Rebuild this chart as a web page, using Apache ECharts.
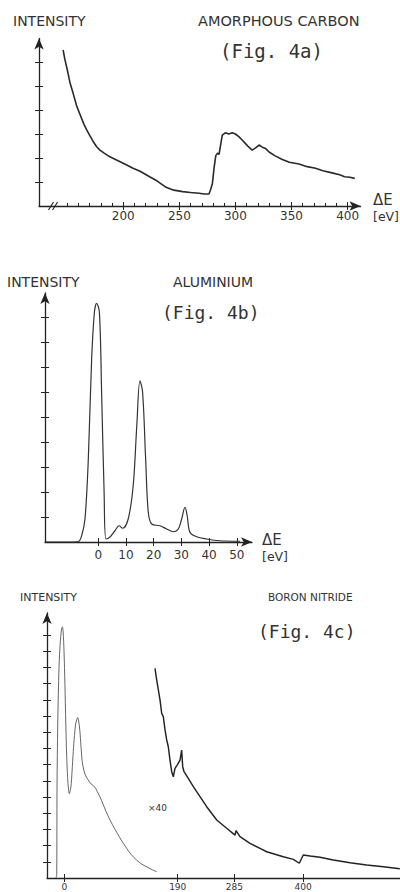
<!DOCTYPE html>
<html><head><meta charset="utf-8">
<script src="https://cdn.jsdelivr.net/npm/echarts@6/dist/echarts.min.js"></script>
<style>html,body{margin:0;padding:0;background:#fff}#c{width:400px;height:892px}</style>
</head><body><div id="c"></div>
<script>
// ---------- Fig. 4a : amorphous carbon ----------
const aEnergy = [146.4,148,150,152.7,155,158.6,162,165,167.4,170,173,176.3,179.2,183,188,194,200,208.7,215,223.5,230,238.2,245,253,260,267.7,272,276.4,278,279.5,281,282.5,284,285.4,287,288.3,291,294,297.2,300,303,306,309,312,314.9,318,321,324,326.8,330,335,341.8,348,356.6,364,371.4,378,386.1,393,397.3,402,406.4];
const aIntensity = [6.5,6.1,5.7,5.1,4.75,4.15,3.75,3.4,3.17,2.95,2.7,2.47,2.33,2.2,2.05,1.92,1.78,1.57,1.45,1.22,1.05,0.78,0.66,0.6,0.56,0.53,0.5,0.5,0.7,0.95,1.6,2.1,2.2,2.15,2.6,2.95,3.05,3.0,3.05,3.0,2.89,2.75,2.6,2.45,2.33,2.42,2.54,2.45,2.4,2.25,2.1,1.94,1.82,1.75,1.64,1.57,1.47,1.38,1.3,1.22,1.2,1.15];
const aMajorTicks = [200,250,300,350,400];
const aMinorTicks = [150,160,170,180,190,210,220,230,240,260,270,280,290,310,320,330,340,360,370,380,390];
const aYTicks = [1,2,3,4,5,6];
const aBreaks = [135.6,139.2];

// ---------- Fig. 4b : aluminium ----------
const bEnergy = [-19,-10,-7.2,-6,-4.8,-3.6,-2.4,-1.4,-0.6,0.4,1.2,2.1,2.8,4.2,6,7.5,8.8,10.8,12.6,13.9,15.05,16,17.1,18.05,19.3,22.3,24.7,27.1,28.9,30.1,31.3,32.1,33.1,35.5,39.1,43.9,51.2];
const bIntensity = [0,0,0.02,0.25,0.92,3.32,7.32,9.19,9.55,9.19,5.99,1.99,0.12,0.2,0.45,0.65,0.55,0.92,2.25,4.65,6.45,5.99,3.32,1.19,0.72,0.65,0.52,0.41,0.52,0.92,1.39,1.05,0.39,0.21,0.12,0.05,0.03];
const bTicks = [0,10,20,30,40,50];
const bYTicks = [1,2,3,4,5,6,7,8,9];

// ---------- Fig. 4c : boron nitride ----------
const cLowEnergy = [-14,-12.7,-12.4,-12.2,-11,-9.5,-8,-6,-4.5,-3.3,-2,-0.5,1,2.5,4,5.5,7,8.5,9.5,11,13,15,17,19,21,22.4,24,26,28,30,33,36,40,45,51.4,55,59.8,65,70,76.5,85,92,98.8,105,112,121,130,140,148,154.8];
const cLowIntensity = [0,0.2,3,5.6,9.5,12.2,13.8,14.9,15.4,15.5,15.2,14,12,9.5,7.5,6.2,5.5,5.2,5.2,5.6,6.6,7.8,8.8,9.5,9.8,9.9,9.7,9.1,8.1,7.2,6.6,6.3,6.05,5.8,5.6,5.35,5.0,4.55,4.1,3.58,3.0,2.55,2.14,1.8,1.45,1.11,0.85,0.65,0.5,0.39];
const cCoreEnergy = [151.9,154.8,160.3,163.1,165.8,168.7,171.5,174.2,177,179.9,182.6,185.4,189.3,193.8,196.6,198.3,200.5,207.7,216.1,227.3,238.5,255.3,272,285.9,287.6,294.3,311,327.8,339,366.8,383.6,393.6,400.3,411.6,428.3,450.6,478.6,506.5,534.4,562];
const cCoreIntensity = [12.94,12.22,10.99,10.17,9.96,9.14,8.52,8.1,7.28,6.56,6.25,6.77,6.98,7.28,7.9,6.87,6.56,6.15,5.64,5.02,4.4,3.58,3.07,2.65,2.92,2.55,2.14,1.83,1.62,1.31,1.15,0.91,1.42,1.36,1.28,1.11,0.94,0.8,0.7,0.57];
const cTicks = [0,190,285,400];
const cYTicks = [1,2,3,4,5,6,7,8,9,10,11,12,13,14,15];

const zip = (xs, ys) => xs.map((x, i) => [x, ys[i]]);
const AX = '#222';
const TXT = '#333';

function xMain(gi, min, max, ticks, fs, margin, arrow, name, nameGap, namePad) {
  const o = {
    type: 'value', gridIndex: gi, min: min, max: max, position: 'bottom',
    axisLine: { show: true, onZero: false, lineStyle: { color: AX, width: 1.3 },
      symbol: arrow ? ['none', 'arrow'] : 'none', symbolSize: [7, 11] },
    axisTick: { show: true, inside: false, length: 4, customValues: ticks, lineStyle: { color: AX, width: 1 } },
    axisLabel: { show: true, customValues: ticks, fontSize: fs, margin: margin, color: TXT, fontFamily: 'DejaVu Sans' },
    splitLine: { show: false }
  };
  if (name) {
    o.name = name; o.nameLocation = 'end'; o.nameGap = nameGap;
    o.nameTextStyle = { padding: [namePad, 0, 0, 0], color: TXT, fontFamily: 'DejaVu Sans', align: 'left',
      rich: { d: { fontSize: 15, lineHeight: 16, color: TXT, fontFamily: 'DejaVu Sans' },
              u: { fontSize: 12.5, lineHeight: 16, color: TXT, fontFamily: 'DejaVu Sans' } } };
  }
  return o;
}
function xInner(gi, min, max, ticks, len) {
  return { type: 'value', gridIndex: gi, min: min, max: max, position: 'bottom',
    axisLine: { show: false, onZero: false },
    axisTick: { show: true, inside: true, length: len, customValues: ticks, lineStyle: { color: AX, width: 1 } },
    axisLabel: { show: false }, splitLine: { show: false } };
}
function yMain(gi, max, ticks) {
  return { type: 'value', gridIndex: gi, min: 0, max: max, position: 'left',
    axisLine: { show: true, onZero: false, lineStyle: { color: AX, width: 1.3 },
      symbol: ['none', 'arrow'], symbolSize: [7, 11] },
    axisTick: { show: true, inside: false, length: 4, customValues: ticks, lineStyle: { color: AX, width: 1 } },
    axisLabel: { show: false }, splitLine: { show: false } };
}
function yInner(gi, max, ticks) {
  return { type: 'value', gridIndex: gi, min: 0, max: max, position: 'left',
    axisLine: { show: false, onZero: false },
    axisTick: { show: true, inside: true, length: 4, customValues: ticks, lineStyle: { color: AX, width: 1 } },
    axisLabel: { show: false }, splitLine: { show: false } };
}
function title(text, left, top, fs, mono) {
  return { text: text, left: left, top: top, padding: 0,
    textStyle: { fontSize: fs, fontWeight: 'normal', color: TXT, lineHeight: fs,
      fontFamily: mono ? 'DejaVu Sans Mono' : 'DejaVu Sans' } };
}

const aMin = 124.9, aMax = 411.5;
const bMin = -19.24, bMax = 55.5;
const cMin = -29, cMax = 562.3;

const chart = echarts.init(document.getElementById('c'), null, { renderer: 'svg', width: 400, height: 892 });
chart.setOption({
  animation: false,
  backgroundColor: '#fff',
  title: [
    title('INTENSITY', 13, 14, 14),
    title('AMORPHOUS CARBON', 198, 14, 14.5),
    title('(Fig. 4a)', 220, 41, 19, true),
    title('INTENSITY', 7, 275, 14),
    title('ALUMINIUM', 173, 275, 14),
    title('(Fig. 4b)', 162, 303, 18, true),
    title('INTENSITY', 20, 592, 11),
    title('BORON NITRIDE', 268, 592, 10.5),
    title('(Fig. 4c)', 258, 622, 18, true),
    title('×40', 148, 803, 9)
  ],
  grid: [
    { left: 39, top: 38.5, right: 37.5, bottom: 686 },
    { left: 45, top: 293, right: 148, bottom: 350 },
    { left: 47, top: 613, right: 0, bottom: 14 }
  ],
  xAxis: [
    xMain(0, aMin, aMax, aMajorTicks, 12, 4, true, '{d|ΔE}\n{u|[eV]}', 12.5, 4),
    xInner(0, aMin, aMax, aMajorTicks, 4),
    xInner(0, aMin, aMax, aMinorTicks, 3),
    xMain(1, bMin, bMax, bTicks, 12, 7, true, '{d|ΔE}\n{u|[eV]}', 10, 12),
    xInner(1, bMin, bMax, bTicks, 4),
    xMain(2, cMin, cMax, cTicks, 9, 4, false),
    xInner(2, cMin, cMax, cTicks, 4)
  ],
  yAxis: [
    yMain(0, (206 - 38.5) / 24, aYTicks), yInner(0, (206 - 38.5) / 24, aYTicks),
    yMain(1, (542 - 293) / 25, bYTicks), yInner(1, (542 - 293) / 25, bYTicks),
    yMain(2, (878 - 613) / 16.2, cYTicks), yInner(2, (878 - 613) / 16.2, cYTicks)
  ],
  series: [
    { type: 'line', xAxisIndex: 0, yAxisIndex: 0, data: zip(aEnergy, aIntensity), symbol: 'none',
      lineStyle: { color: '#2a2a2a', width: 1.6 } },
    { type: 'line', xAxisIndex: 3, yAxisIndex: 2, data: zip(bEnergy, bIntensity), symbol: 'none', smooth: 0.35,
      lineStyle: { color: '#333', width: 1.2 } },
    { type: 'line', xAxisIndex: 5, yAxisIndex: 4, data: zip(cLowEnergy, cLowIntensity), symbol: 'none', smooth: 0.3,
      lineStyle: { color: '#555', width: 0.9 } },
    { type: 'line', xAxisIndex: 5, yAxisIndex: 4, data: zip(cCoreEnergy, cCoreIntensity), symbol: 'none',
      lineStyle: { color: '#222', width: 1.45 } }
  ]
});

// axis-break marks "//" on the Fig. 4a energy axis
const breakMarks = aBreaks.map(function (e) {
  const p = chart.convertToPixel({ xAxisIndex: 0, yAxisIndex: 0 }, [e, 0]);
  return { type: 'line', shape: { x1: p[0] - 2.5, y1: p[1] + 4, x2: p[0] + 2.5, y2: p[1] - 4 },
    style: { stroke: AX, lineWidth: 1.1 } };
});
chart.setOption({ graphic: breakMarks });
</script>
</body></html>
